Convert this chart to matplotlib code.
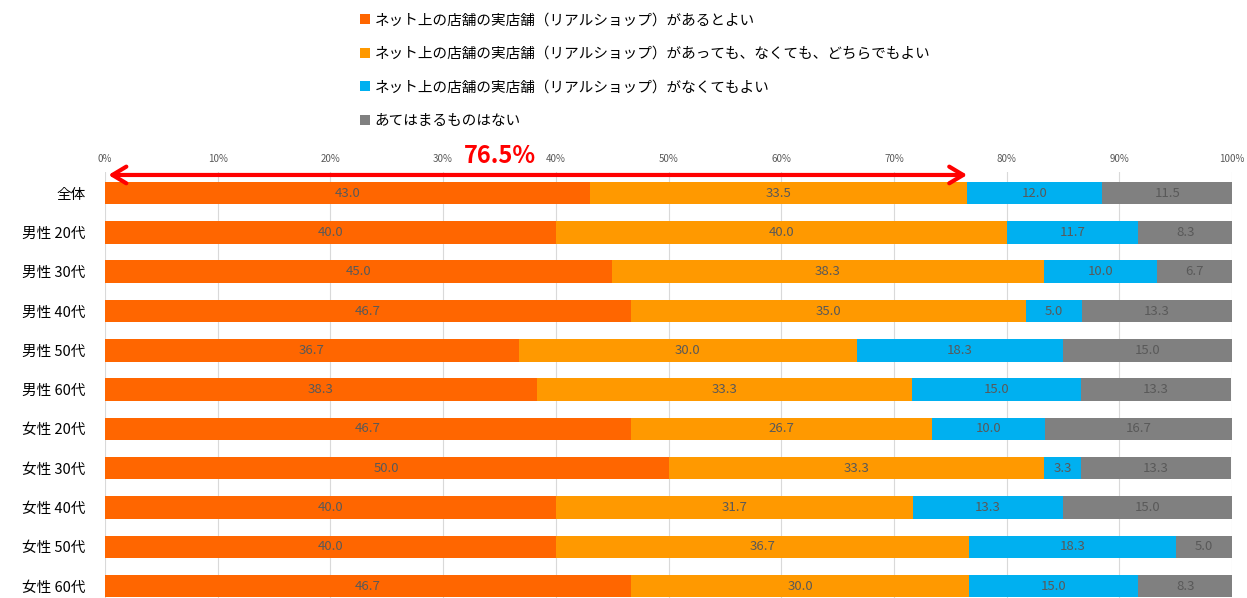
import numpy as np
import matplotlib.pyplot as plt

plt.rcParams['font.family'] = ['Noto Sans CJK JP', 'DejaVu Sans']

categories = ["全体", "男性 20代", "男性 30代", "男性 40代", "男性 50代", "男性 60代",
              "女性 20代", "女性 30代", "女性 40代", "女性 50代", "女性 60代"]
series_names = [
    "ネット上の店舗の実店舗（リアルショップ）があるとよい",
    "ネット上の店舗の実店舗（リアルショップ）があっても、なくても、どちらでもよい",
    "ネット上の店舗の実店舗（リアルショップ）がなくてもよい",
    "あてはまるものはない",
]
s_aru = [43.0, 40.0, 45.0, 46.7, 36.7, 38.3, 46.7, 50.0, 40.0, 40.0, 46.7]
s_dochira = [33.5, 40.0, 38.3, 35.0, 30.0, 33.3, 26.7, 33.3, 31.7, 36.7, 30.0]
s_naku = [12.0, 11.7, 10.0, 5.0, 18.3, 15.0, 10.0, 3.3, 13.3, 18.3, 15.0]
s_none = [11.5, 8.3, 6.7, 13.3, 15.0, 13.3, 16.7, 13.3, 15.0, 5.0, 8.3]
highlight = 76.5
xticks = list(range(0, 101, 10))

colors = ["#FF6600", "#FF9900", "#00B0F0", "#808080"]

fig = plt.figure(figsize=(12.47, 5.98), dpi=100)
ax = fig.add_axes([0.0842, 0.0, 0.9038, 0.712])

y = np.arange(len(categories))
left = np.zeros(len(categories))
handles = []
for vals, c, name in zip([s_aru, s_dochira, s_naku, s_none], colors, series_names):
    vals = np.array(vals)
    b = ax.barh(y, vals, left=left, height=0.57, color=c, label=name, zorder=2)
    handles.append(b)
    for yi, l, v in zip(y, left, vals):
        ax.text(l + v / 2, yi, f"{v:.1f}", ha='center', va='center',
                fontsize=9.5, color="#595959", zorder=3)
    left += vals

ax.set_xlim(0, 100)
ax.set_ylim(10.3, -0.53)
ax.set_yticks(y)
ax.set_yticklabels(categories, fontsize=10.5)
ax.set_xticks(xticks)
ax.set_xticklabels([f"{t}%" for t in xticks], fontsize=7, color="#595959")
ax.xaxis.tick_top()
ax.tick_params(axis='both', length=0)
ax.tick_params(axis='x', pad=6)
ax.tick_params(axis='y', pad=14)
ax.grid(axis='x', color="#D9D9D9", lw=0.8, zorder=0)
for s in ax.spines.values():
    s.set_visible(False)

# highlight arrow
ax.annotate("", xy=(0.3, -0.46), xytext=(highlight, -0.46),
            arrowprops=dict(arrowstyle='<->, head_length=0.5, head_width=0.3',
                            color="#FF0000", lw=3, mutation_scale=20,
                            shrinkA=0, shrinkB=0),
            annotation_clip=False, zorder=4)
ax.text(35.0, -0.93, f"{highlight}%", ha='center', va='center', fontsize=17,
        fontweight='bold', color="#FF0000", clip_on=False)

fig.legend(handles=handles, loc='upper left', bbox_to_anchor=(0.278, 1.0),
           frameon=False, fontsize=10.5, handlelength=0.7, handleheight=0.7,
           handletextpad=0.3, labelspacing=1.35)

fig.savefig("out.png", dpi=100)
